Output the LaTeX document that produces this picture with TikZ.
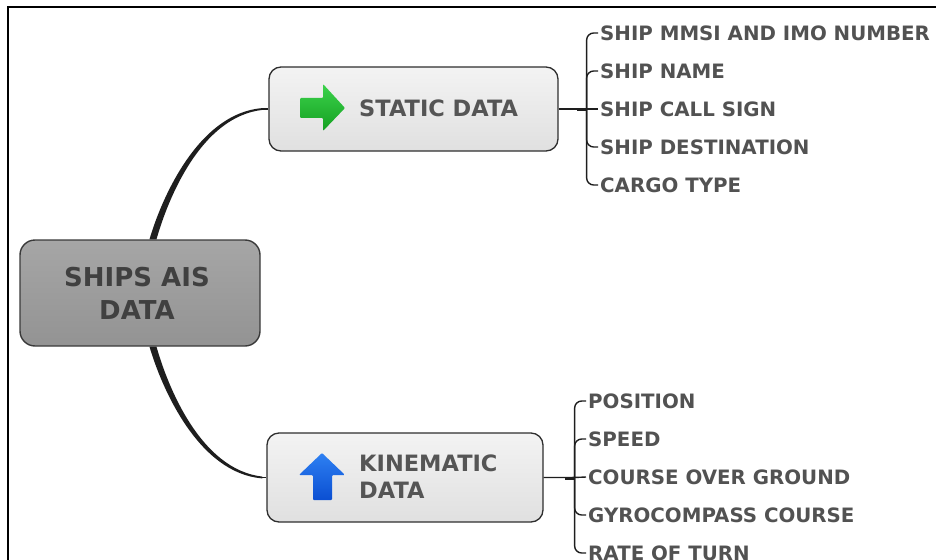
\documentclass[tikz,border=0pt]{standalone}
\usepackage{fontspec}
\setmainfont{DejaVu Sans}
\usetikzlibrary{calc}
\definecolor{rootedge}{HTML}{3A3A3A}
\definecolor{roottop}{HTML}{A6A6A6}
\definecolor{rootbot}{HTML}{939393}
\definecolor{roottext}{HTML}{404040}
\definecolor{boxedge}{HTML}{2E2E2E}
\definecolor{boxtop}{HTML}{F3F3F3}
\definecolor{boxbot}{HTML}{E0E0E0}
\definecolor{boxtext}{HTML}{555555}
\definecolor{leafgray}{HTML}{525252}
\definecolor{linkdark}{HTML}{1E1E1E}
\definecolor{greentop}{HTML}{3CD24C}
\definecolor{greenbot}{HTML}{14A021}
\definecolor{bluetop}{HTML}{2E80F2}
\definecolor{bluebot}{HTML}{0B4FD2}
\begin{document}
\begin{tikzpicture}[x=1pt,y=-1pt,
  rootbox/.style={draw=rootedge, line width=1.4pt, rounded corners=15pt,
    top color=roottop, bottom color=rootbot,
    minimum width=240pt, minimum height=106pt, inner sep=0pt},
  branchbox/.style={draw=boxedge, line width=1.3pt, rounded corners=12pt,
    top color=boxtop, bottom color=boxbot, inner sep=0pt},
  roottitle/.style={font=\fontsize{26}{33}\selectfont\bfseries, text=roottext,
    align=center, inner sep=0pt},
  branchtitle/.style={font=\fontsize{22.5}{27}\selectfont\bfseries, text=boxtext,
    align=left, anchor=west, inner sep=0pt},
  leaf/.style={anchor=west, inner xsep=2pt, inner ysep=0pt,
    font=\fontsize{19.8}{22}\selectfont\bfseries, text=leafgray},
  bracket/.style={draw=linkdark, line width=1.4pt, rounded corners=7pt},
  stub/.style={draw=linkdark, line width=1.6pt},
  linkfill/.style={fill=linkdark}
]
\useasboundingbox (0,0) rectangle (936,559);
\clip (0,0) rectangle (936,559);

% outer frame (only its top and left edges fall inside the page)
\draw[line width=2pt, black] (8,7) rectangle (960,600);

% central topic and the two branches
\node[rootbox] (ais) at (140,293) {};
\node[roottitle] (aistext) at (137,293.5) {SHIPS AIS\\DATA};

\node[branchbox, minimum width=289pt, minimum height=84pt] (static) at (413.5,109) {};
\node[branchtitle] (statictext) at (359,108.5) {STATIC DATA};

\node[branchbox, minimum width=276pt, minimum height=89pt] (kin) at (405,477.5) {};
\node[branchtitle] (kintext) at (359,477) {KINEMATIC\\DATA};

% icons
\path[top color=greentop, bottom color=greenbot, rounded corners=1pt]
  (300,98) -- (323,98) -- (323,84) -- (345,108) -- (323,131) -- (323,118) -- (300,118) -- cycle;
\path[top color=bluetop, bottom color=bluebot, rounded corners=1pt]
  (322,453) -- (345,475) -- (332,475) -- (332,500) -- (313,500) -- (313,475) -- (299,475) -- cycle;

% tapered links from the central topic to the branches
\coordinate (t0) at ([xshift=13pt]ais.north);
\coordinate (t1) at ([xshift=-6pt]static.west);
\fill[linkfill] ([xshift=-3.5pt]t0) .. controls +(12,-41) and +(-64,5) .. ([yshift=0.9pt]t1)
  -- ([yshift=-0.9pt]t1) .. controls +(-62,7) and +(11,-39) .. ([xshift=3.5pt]t0) -- cycle;
\draw[stub] (t1) -- (static.west);

\coordinate (b0) at ([xshift=13pt]ais.south);
\coordinate (b1) at ([xshift=-4pt]kin.west);
\fill[linkfill] ([xshift=-3.5pt]b0) .. controls +(12,41) and +(-64,-5) .. ([yshift=-0.9pt]b1)
  -- ([yshift=0.9pt]b1) .. controls +(-62,-7) and +(11,39) .. ([xshift=3.5pt]b0) -- cycle;
\draw[stub] (b1) -- (kin.west);

% static data leaves
\node[leaf] (s1) at (598,33)  {SHIP MMSI AND IMO NUMBER};
\node[leaf] (s2) at (598,71)  {SHIP NAME};
\node[leaf] (s3) at (598,109) {SHIP CALL SIGN};
\node[leaf] (s4) at (598,147) {SHIP DESTINATION};
\node[leaf] (s5) at (598,185) {CARGO TYPE};

\coordinate (shub) at ([xshift=28pt]static.east);
\draw[bracket] (static.east) -- (shub) -- (s3.west);
\foreach \n in {s1,s2,s4,s5} \draw[bracket] (shub) |- (\n.west);
\draw[linkdark, line width=2.6pt] ([shift={(-10,1)}]shub) -- ([shift={(0,1)}]shub);

% kinematic data leaves
\node[leaf] (k1) at (586,401) {POSITION};
\node[leaf] (k2) at (586,439) {SPEED};
\node[leaf] (k3) at (586,477) {COURSE OVER GROUND};
\node[leaf] (k4) at (586,515) {GYROCOMPASS COURSE};
\node[leaf] (k5) at (586,553) {RATE OF TURN};

\coordinate (khub) at ([xshift=31pt]kin.east);
\draw[bracket] (kin.east) -- (khub) -- (k3.west);
\foreach \n in {k1,k2,k4,k5} \draw[bracket] (khub) |- (\n.west);
\draw[linkdark, line width=2.6pt] ([shift={(-10,1)}]khub) -- ([shift={(0,1)}]khub);
\end{tikzpicture}
\end{document}
